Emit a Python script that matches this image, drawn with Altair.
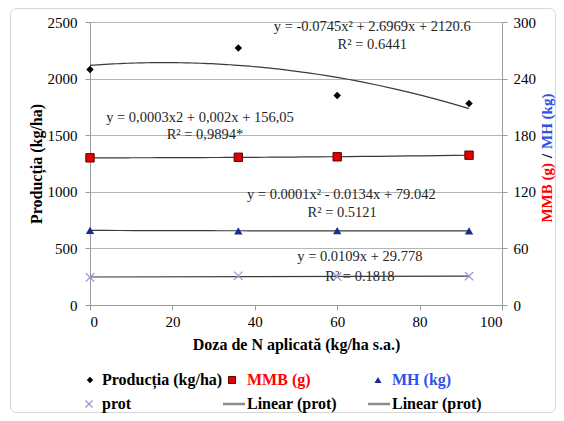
import altair as alt
import pandas as pd

# ---------------- data ----------------
doza = [0, 36, 60, 92]
productia = [2080, 2270, 1850, 1780]
mmb = [156.0, 156.6, 157.1, 158.8]
mh = [79.1, 78.5, 78.8, 78.6]
prot = [29.2, 31.0, 30.0, 30.5]

x_ticks = [0, 20, 40, 60, 80, 100]
y_left_ticks = [0, 500, 1000, 1500, 2000, 2500]
y_right_ticks = [0, 60, 120, 180, 240, 300]

eq_lines = [
    "y = -0.0745x² + 2.6969x + 2120.6",
    "R² = 0.6441",
    "y = 0,0003x2 + 0,002x + 156,05",
    "R² = 0,9894*",
    "y = 0.0001x² - 0.0134x + 79.042",
    "R² = 0.5121",
    "y = 0.0109x + 29.778",
    "R² = 0.1818",
]
eq_x = [68.5, 68.5, 26.7, 27.9, 61.0, 61.2, 65.5, 65.5]
eq_y = [2456, 2297, 1652, 1502, 972, 813, 424, 247]

legend_labels = ["Producția (kg/ha)", "MMB (g)", "MH (kg)", "prot", "Linear (prot)", "Linear (prot)"]
right_title_parts = ["MMB (g)", "/", "MH (kg)"]

# ---------------- styling ----------------
SERIF = "Liberation Serif"
W, H = 412, 283
GRID = "#b5b5b5"
AXC = "#9a9a9a"

df = pd.DataFrame({"doza": doza, "productia": productia, "mmb": mmb, "mh": mh, "prot": prot})
eq_df = pd.DataFrame({"ex": eq_x, "ey": eq_y, "txt": eq_lines})

x_axis = alt.Axis(values=x_ticks, title="Doza de N aplicată (kg/ha s.a.)", grid=False, format="d",
                  domainColor=AXC, tickColor=AXC, tickSize=5, labelPadding=4,
                  labelFont=SERIF, labelFontSize=15, labelColor="black",
                  titleFont=SERIF, titleFontSize=16, titleFontWeight="bold",
                  titleColor="black", titlePadding=7)
x_scale = alt.Scale(domain=[0, 100], nice=False)

left_scale = alt.Scale(domain=[0, 2500], nice=False)
left_axis = alt.Axis(values=y_left_ticks, title="Producția (kg/ha)", orient="left", grid=True, format="d",
                     gridColor=GRID, domainColor=AXC, tickColor=AXC, tickSize=5, labelPadding=8,
                     labelFont=SERIF, labelFontSize=15, labelColor="black",
                     titleFont=SERIF, titleFontSize=16, titleFontWeight="bold",
                     titleColor="black", titlePadding=3)

right_scale = alt.Scale(domain=[0, 300], nice=False)
right_axis = alt.Axis(values=y_right_ticks, title=None, orient="right", grid=False, format="d",
                      domainColor=AXC, tickColor=AXC, tickSize=5, labelPadding=6,
                      labelFont=SERIF, labelFontSize=15, labelColor="black")


def X(field):
    return alt.X(f"{field}:Q", scale=x_scale, axis=x_axis)


def YL(field):
    return alt.Y(f"{field}:Q", scale=left_scale, axis=left_axis)


def YR(field):
    return alt.Y(f"{field}:Q", scale=right_scale, axis=right_axis)


TREND = "#3a3a3a"
CROSS = "M-1,-1L1,1M-1,1L1,-1"

base = alt.Chart(df)

# ---- left axis: Producția ----
prod_trend = base.transform_regression("doza", "productia", method="poly", order=2).mark_line(
    color=TREND, strokeWidth=1.2).encode(x=X("doza"), y=YL("productia"))
prod_pts = base.mark_point(shape="diamond", filled=True, size=55, color="black", opacity=1).encode(
    x=X("doza"), y=YL("productia"))
eq_text = alt.Chart(eq_df).mark_text(font=SERIF, fontSize=14.5, color="#262626", baseline="middle").encode(
    x=X("ex"), y=YL("ey"), text="txt:N")
left = alt.layer(prod_trend, prod_pts, eq_text)

# ---- right axis: MMB, MH, prot ----
mmb_trend = base.transform_regression("doza", "mmb", method="poly", order=2).mark_line(
    color=TREND, strokeWidth=1.2).encode(x=X("doza"), y=YR("mmb"))
mmb_pts = base.mark_point(shape="square", filled=True, size=70, fill="#e00000", stroke="#5a0000",
                          strokeWidth=1, opacity=1).encode(x=X("doza"), y=YR("mmb"))
mh_trend = base.transform_regression("doza", "mh", method="poly", order=2).mark_line(
    color=TREND, strokeWidth=1.2).encode(x=X("doza"), y=YR("mh"))
mh_pts = base.mark_point(shape="triangle-up", filled=True, size=70, color="#1c2c8c", opacity=1).encode(
    x=X("doza"), y=YR("mh"))
prot_trend = base.transform_regression("doza", "prot", method="linear").mark_line(
    color=TREND, strokeWidth=1.2).encode(x=X("doza"), y=YR("prot"))
prot_pts = base.mark_point(shape=CROSS, filled=False, size=70, color="#9c93d0", strokeWidth=1.2,
                           opacity=1).encode(x=X("doza"), y=YR("prot"))
right = alt.layer(mmb_trend, mmb_pts, mh_trend, mh_pts, prot_trend, prot_pts)

one = pd.DataFrame({"t": [""]})

# ---- outer frame ----
frame = alt.Chart(one).mark_rect(fillOpacity=0, stroke="#d6d6d6", strokeWidth=1, cornerRadius=6).encode(
    x=alt.value(-79.5), x2=alt.value(465.5), y=alt.value(-13.5), y2=alt.value(390.5))

# ---- right axis title in colours (reads bottom-to-top) ----
rt_colors = ["#ff0000", "black", "#2f4fe8"]
rt_y = [141, 134, 127]
rt_align = ["right", "center", "left"]
right_title = [
    alt.Chart(pd.DataFrame({"t": [right_title_parts[i]]})).mark_text(
        angle=270, font=SERIF, fontSize=15, fontWeight="bold", color=rt_colors[i],
        align=rt_align[i], baseline="middle").encode(text="t:N", x=alt.value(457), y=alt.value(rt_y[i]))
    for i in range(3)
]

# ---- legend ----
R1, R2 = 358, 382
leg = []
leg.append(alt.Chart(one).mark_point(shape="diamond", filled=True, size=40, color="black", opacity=1)
           .encode(x=alt.value(0), y=alt.value(R1)))
leg.append(alt.Chart(one).mark_point(shape="square", filled=True, size=50, fill="#e00000",
                                     stroke="#5a0000", strokeWidth=1, opacity=1)
           .encode(x=alt.value(142), y=alt.value(R1)))
leg.append(alt.Chart(one).mark_point(shape="triangle-up", filled=True, size=50, color="#1c2c8c", opacity=1)
           .encode(x=alt.value(288), y=alt.value(R1)))
leg.append(alt.Chart(one).mark_point(shape=CROSS, filled=False, size=50, color="#9c93d0",
                                     strokeWidth=1.2, opacity=1)
           .encode(x=alt.value(-1), y=alt.value(R2)))
leg.append(alt.Chart(one).mark_point(shape="stroke", filled=False, size=484, color="#8c8c8c",
                                     strokeWidth=2.5, opacity=1)
           .encode(x=alt.value(144), y=alt.value(R2)))
leg.append(alt.Chart(one).mark_point(shape="stroke", filled=False, size=484, color="#8c8c8c",
                                     strokeWidth=2.5, opacity=1)
           .encode(x=alt.value(289), y=alt.value(R2)))

leg_tx = [12, 157, 302, 12, 157, 302]
leg_ty = [R1, R1, R1, R2, R2, R2]
leg_col = ["black", "#ff0000", "#2f4fe8", "black", "black", "black"]
for i, lab in enumerate(legend_labels):
    leg.append(alt.Chart(pd.DataFrame({"t": [lab]})).mark_text(
        font=SERIF, fontSize=16, fontWeight="bold", color=leg_col[i], align="left", baseline="middle")
        .encode(text="t:N", x=alt.value(leg_tx[i]), y=alt.value(leg_ty[i])))

chart = alt.layer(frame, left, right, *right_title, *leg).resolve_scale(y="independent").properties(
    width=W, height=H,
    autosize=alt.AutoSizeParams(type="none"),
    padding={"left": 82, "top": 14, "right": 54, "bottom": 108},
    background="white",
).configure_view(strokeWidth=0)

chart.save("out.html", embed_options={"renderer": "svg", "actions": False})
